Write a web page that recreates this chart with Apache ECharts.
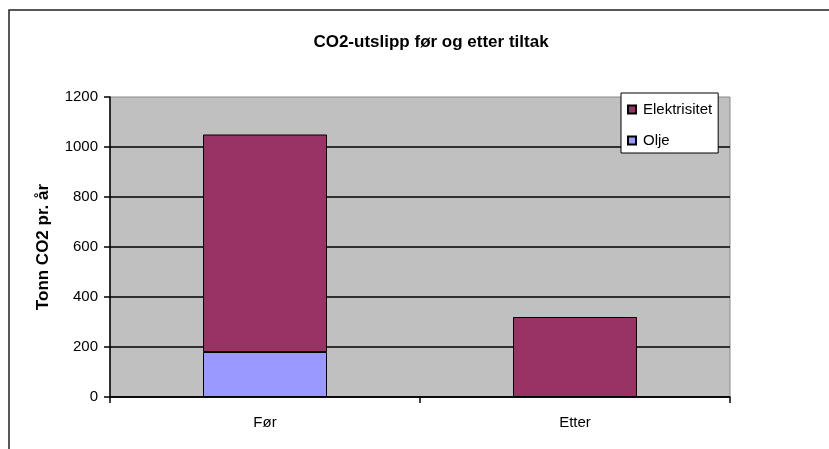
<!DOCTYPE html>
<html>
<head>
<meta charset="utf-8">
<script src="https://cdn.jsdelivr.net/npm/echarts@6/dist/echarts.min.js"></script>
<style>
  html, body { margin: 0; padding: 0; background: #fff; }
  #chart { width: 829px; height: 449px; }
</style>
</head>
<body>
<div id="chart"></div>
<script>
// CO2 emissions before and after the measures (tonnes per year)
const categories = ['Før', 'Etter'];
const oljeValues = [180, '-'];
const elektrisitetValues = [870, 320];
const yTicks = { min: 0, max: 1200, interval: 200 };

const FONT = '"Liberation Sans", Arial, sans-serif';

const chart = echarts.init(document.getElementById('chart'), null, { renderer: 'canvas' });

chart.setOption({
  backgroundColor: '#ffffff',
  animation: false,
  textStyle: { fontFamily: FONT, color: '#000' },
  title: {
    text: 'CO2-utslipp før og etter tiltak',
    left: 426,
    top: 29,
    textAlign: 'center',
    textStyle: { fontFamily: FONT, fontSize: 17, fontWeight: 'bold', color: '#000' }
  },
  graphic: [{
    type: 'rect',
    silent: true,
    z: -1,
    shape: { x: 9, y: 10, width: 830, height: 450 },
    style: { fill: 'none', stroke: '#222', lineWidth: 1.5 }
  }],
  legend: {
    orient: 'vertical',
    left: 621,
    top: 93,
    padding: [9, 6, 5, 6],
    itemGap: 16,
    itemWidth: 8,
    itemHeight: 8,
    icon: 'rect',
    backgroundColor: '#ffffff',
    borderColor: '#000',
    borderWidth: 1,
    textStyle: { fontFamily: FONT, fontSize: 15, color: '#000', padding: [0, 0, 0, 2] },
    data: ['Elektrisitet', 'Olje']
  },
  grid: {
    left: 110,
    right: 99,
    top: 97,
    bottom: 52,
    show: true,
    backgroundColor: '#C0C0C0',
    borderColor: '#8a8a8a',
    borderWidth: 1
  },
  xAxis: {
    type: 'category',
    data: categories,
    boundaryGap: true,
    axisLine: { lineStyle: { color: '#000', width: 1.5 } },
    axisTick: { show: true, length: 6, lineStyle: { color: '#000', width: 1.5 } },
    axisLabel: { fontFamily: FONT, fontSize: 15, color: '#000', margin: 18 }
  },
  yAxis: {
    type: 'value',
    min: yTicks.min,
    max: yTicks.max,
    interval: yTicks.interval,
    name: 'Tonn CO2 pr. år',
    nameLocation: 'middle',
    nameGap: 58,
    nameTextStyle: { fontFamily: FONT, fontSize: 17, fontWeight: 'bold', color: '#000' },
    axisLine: { show: true, lineStyle: { color: '#000', width: 1.5 } },
    axisTick: { show: true, length: 6, lineStyle: { color: '#000', width: 1.5 } },
    axisLabel: { fontFamily: FONT, fontSize: 15, color: '#000', margin: 12, formatter: (v) => String(v) },
    splitLine: { show: true, showMaxLine: false, lineStyle: { color: '#000', width: 1.5 } }
  },
  series: [
    {
      name: 'Olje',
      type: 'bar',
      stack: 'co2',
      barWidth: '40%',
      data: oljeValues,
      itemStyle: { color: '#9999FF', borderColor: '#000', borderWidth: 1 }
    },
    {
      name: 'Elektrisitet',
      type: 'bar',
      stack: 'co2',
      barWidth: '40%',
      data: elektrisitetValues,
      itemStyle: { color: '#993366', borderColor: '#000', borderWidth: 1 }
    }
  ]
});
</script>
</body>
</html>
